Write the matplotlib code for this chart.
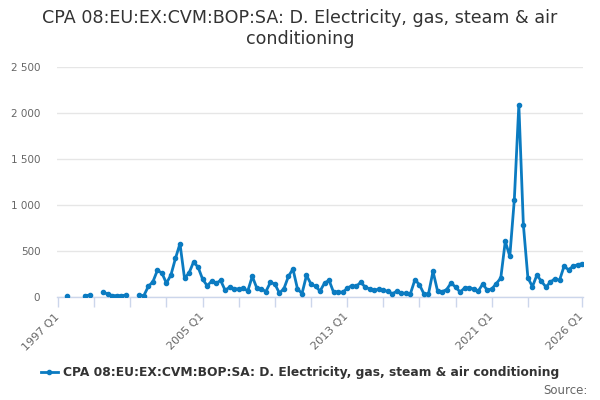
import numpy as np
import matplotlib
matplotlib.use("Agg")
import matplotlib.pyplot as plt
from matplotlib.lines import Line2D
from matplotlib.ticker import FuncFormatter

nan = np.nan

# quarters 1997 Q1 .. 2026 Q1
quarters = [f"{y} Q{q}" for y in range(1997, 2027) for q in range(1, 5)][:117]

# values (gaps = missing data)
values = [
    nan, nan, 15, nan, nan, nan, 15, 20, nan, nan,
    50, 33, 15, 15, 15, 20, nan, nan, 20, 15,
    116, 165, 290, 260, 150, 240, 420, 580, 205, 260,
    380, 325, 195, 123, 170, 150, 180, 72, 108, 90,
    87, 98, 65, 224, 98, 90, 58, 159, 141, 43,
    90, 224, 304, 90, 36, 235, 141, 116, 65, 152,
    181, 51, 58, 50, 94, 123, 116, 159, 108, 87,
    72, 87, 72, 62, 36, 62, 43, 40, 36, 188,
    134, 33, 33, 279, 67, 58, 80, 152, 108, 54,
    98, 101, 87, 62, 141, 76, 87, 145, 206, 605,
    442, 1058, 2090, 786, 210, 112, 239, 170, 109, 163,
    199, 181, 333, 297, 333, 351, 362,
]

series_name = "CPA 08:EU:EX:CVM:BOP:SA: D. Electricity, gas, steam & air conditioning"
title = "CPA 08:EU:EX:CVM:BOP:SA: D. Electricity, gas, steam & air\nconditioning"
y_ticks = [0, 500, 1000, 1500, 2000, 2500]
tick_positions = list(range(0, 105, 8)) + [116]
label_positions = [0, 32, 64, 96, 116]

line_color = "#0b7bc1"
axis_color = "#ccd6eb"
grid_color = "#e6e6e6"

fig = plt.figure(figsize=(6, 4), dpi=100)
ax = fig.add_axes([57 / 600, 103 / 400, 526 / 600, 230 / 400])

x = np.arange(len(quarters))
ax.plot(x, values, color=line_color, lw=2, marker="o", ms=3,
        solid_joinstyle="round", zorder=3)

ax.set_xlim(-0.22, 116.2)
ax.set_ylim(0, 2500)
ax.set_yticks(y_ticks)
ax.yaxis.set_major_formatter(FuncFormatter(lambda v, p: f"{int(v):,}".replace(",", " ")))
ax.grid(axis="y", color=grid_color, lw=1)
ax.set_axisbelow(True)

for side in ["top", "right", "left"]:
    ax.spines[side].set_visible(False)
ax.spines["bottom"].set_color(axis_color)
ax.spines["bottom"].set_linewidth(1)

ax.tick_params(axis="y", length=0, pad=12, labelsize=7.5, labelcolor="#666666")
ax.set_xticks(tick_positions)
ax.set_xticklabels([quarters[i] if i in label_positions else "" for i in tick_positions])
ax.tick_params(axis="x", length=7, color=axis_color, width=1,
               labelsize=8, labelcolor="#666666", pad=6)
for lbl in ax.get_xticklabels():
    lbl.set_rotation(45)
    lbl.set_ha("right")
    lbl.set_va("center")
    lbl.set_rotation_mode("anchor")

fig.text(0.5, 0.978, title, ha="center", va="top", fontsize=12.6,
         color="#333333", linespacing=1.2)

handle = Line2D([], [], color=line_color, lw=2, marker="o", ms=3)
fig.legend([handle], [series_name], loc="center", bbox_to_anchor=(0.5, 0.068),
           frameon=False, handlelength=1.4, handletextpad=0.4,
           prop={"weight": "bold", "size": 8.8}, labelcolor="#333333")

fig.text(0.98, 0.025, "Source:", ha="right", va="center", fontsize=8.5, color="#666666")

fig.savefig("out.png", dpi=100)
